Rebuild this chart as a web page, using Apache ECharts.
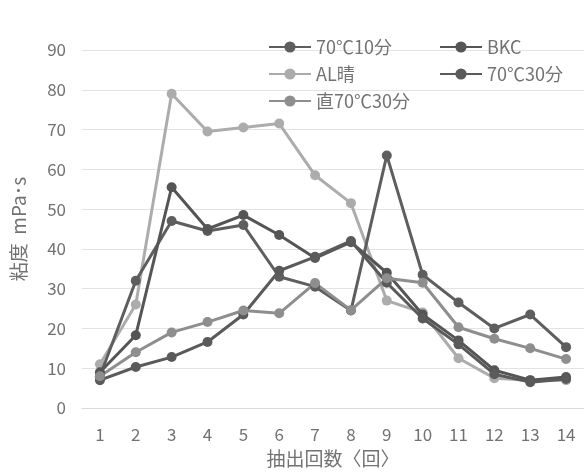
<!DOCTYPE html>
<html>
<head>
<meta charset="utf-8">
<script src="https://cdn.jsdelivr.net/npm/echarts@6/dist/echarts.min.js"></script>
<style>
  html, body { margin: 0; padding: 0; background: #fff; }
  #chart { width: 584px; height: 472px; }
</style>
</head>
<body>
<div id="chart"></div>
<script>
// Extraction count (回) on the x axis
const categories = ['1','2','3','4','5','6','7','8','9','10','11','12','13','14'];

// Viscosity (mPa·s) per extraction
const s70c10 = [8, 32, 47, 44.5, 46, 33, 30.5, 24.5, 63.5, 33.5, 26.5, 20, 23.5, 15.3];
const sBKC = [9, 18.3, 55.5, 45, 48.5, 43.5, 37.7, 41.7, 34, 23.5, 17, 9.5, 7, 7.8];
const sAL = [11, 26, 79, 69.5, 70.5, 71.5, 58.5, 51.5, 27, 24, 12.5, 7.5, 7, 7];
const s70c30 = [7, 10.3, 12.8, 16.6, 23.5, 34.5, 38, 42, 31.5, 22.5, 16, 8.5, 6.5, 7.3];
const sDirect = [8, 14, 19, 21.6, 24.5, 23.8, 31.4, 24.6, 32.6, 31.5, 20.3, 17.4, 15, 12.3];

const names = ['70℃10分', 'BKC', 'AL晴', '70℃30分', '直70℃30分'];
const seriesData = [s70c10, sBKC, sAL, s70c30, sDirect];
const colors = ['#5e5e5e', '#555555', '#acacac', '#5a5a5a', '#8e8e8e'];

const font = '"Noto Sans CJK JP", "Noto Sans", sans-serif';
const textColor = '#727272';

const chart = echarts.init(document.getElementById('chart'));

const legendBase = {
  orient: 'vertical',
  top: 33,
  itemWidth: 42,
  itemHeight: 14,
  itemGap: 9,
  textStyle: { fontFamily: font, fontSize: 18, color: textColor },
  selectedMode: false
};

chart.setOption({
  animation: false,
  backgroundColor: '#ffffff',
  color: colors,
  legend: [
    Object.assign({}, legendBase, { left: 263, data: ['70℃10分', 'AL晴', '直70℃30分'] }),
    Object.assign({}, legendBase, { left: 434, data: ['BKC', '70℃30分'] })
  ],
  grid: { left: 82, right: 0, top: 50, bottom: 64, containLabel: false, outerBoundsMode: 'none' },
  xAxis: {
    type: 'category',
    data: categories,
    boundaryGap: true,
    name: '抽出回数〈回〉',
    nameLocation: 'middle',
    nameGap: 41,
    nameTextStyle: { fontFamily: font, fontSize: 19, color: textColor },
    axisLine: { show: true, lineStyle: { color: '#d9d9d9' } },
    axisTick: { show: false },
    axisLabel: { fontFamily: font, fontSize: 17, color: textColor, margin: 18 }
  },
  yAxis: {
    type: 'value',
    min: 0,
    max: 90,
    interval: 10,
    name: '粘度  mPa･s',
    nameLocation: 'middle',
    nameGap: 54,
    nameRotate: 90,
    nameTextStyle: { fontFamily: font, fontSize: 19, color: textColor },
    axisLine: { show: false },
    axisTick: { show: false },
    axisLabel: { fontFamily: font, fontSize: 17, color: textColor, margin: 16 },
    splitLine: { lineStyle: { color: '#e3e3e3', width: 1 } }
  },
  series: names.map((n, i) => ({
    name: n,
    type: 'line',
    data: seriesData[i],
    symbol: 'circle',
    symbolSize: 10,
    lineStyle: { width: 3, color: colors[i] },
    itemStyle: { color: colors[i] },
    z: i === 2 ? 1 : 2
  }))
});
</script>
</body>
</html>
